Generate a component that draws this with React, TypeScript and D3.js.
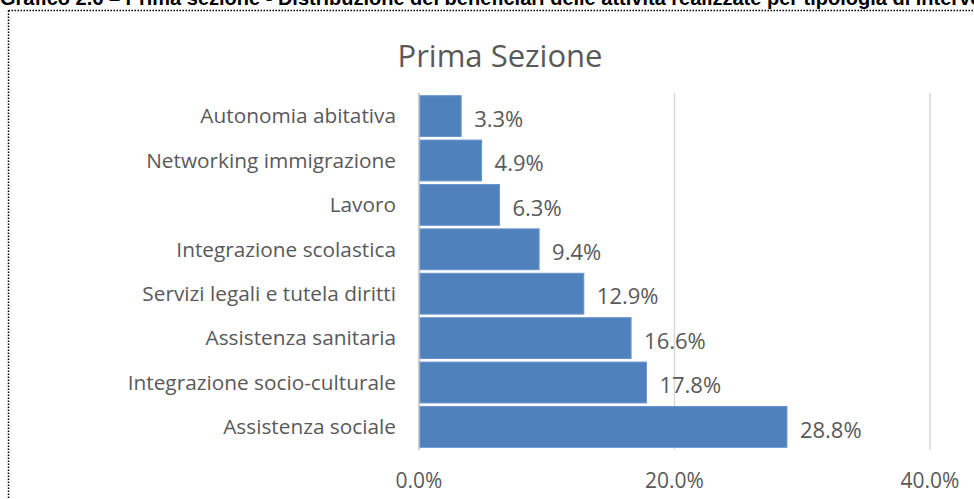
import React from "react";
import * as d3 from "d3";

const categories = [
  "Autonomia abitativa",
  "Networking immigrazione",
  "Lavoro",
  "Integrazione scolastica",
  "Servizi legali  e tutela diritti",
  "Assistenza sanitaria",
  "Integrazione socio-culturale",
  "Assistenza sociale",
];
const values = [3.3, 4.9, 6.3, 9.4, 12.9, 16.6, 17.8, 28.8];
const ticks = [0, 20, 40];
const chartTitle = "Prima Sezione";
const pageTitle =
  "Grafico 2.6 \u2013 Prima sezione - Distribuzione dei beneficiari delle attività realizzate per tipologia di intervento";

const W = 974;
const H = 499;
const font = "'Open Sans', 'Noto Sans', sans-serif";

export default function App() {
  const x = d3.scaleLinear().domain([0, 40]).range([419, 930]);
  const y = d3
    .scaleBand<string>()
    .domain(categories)
    .range([93, 450])
    .paddingInner(0.08)
    .paddingOuter(0.06);
  const fmt = (v: number) => d3.format(".1f")(v) + "%";

  return (
    <svg
      width={W}
      height={H}
      style={{ position: "absolute", left: 0, top: 0, background: "#fff" }}
    >
      <rect x={0} y={0} width={W} height={H} fill="#fff" />
      <text
        x={0}
        y={5}
        fontFamily="'Liberation Sans', Arial, sans-serif"
        fontWeight="bold"
        fontSize={20}
        fill="#000"
      >
        {pageTitle}
      </text>
      <line x1={8.5} x2={W} y1={10.5} y2={10.5} stroke="#000" strokeWidth={1.5} strokeDasharray="1.5,1.5" />
      <line x1={8.5} x2={8.5} y1={10.5} y2={H} stroke="#000" strokeWidth={1.5} strokeDasharray="1.5,1.5" />
      <text
        x={500}
        y={67}
        textAnchor="middle"
        fontFamily={font}
        fontSize={31}
        fill="#595959"
      >
        {chartTitle}
      </text>
      {ticks.map((t) => (
        <g key={t}>
          <line
            x1={x(t)}
            x2={x(t)}
            y1={93}
            y2={450}
            stroke={t === 0 ? "#bfbfbf" : "#d9d9d9"}
            strokeWidth={1.5}
          />
          <text
            x={x(t)}
            y={488}
            textAnchor="middle"
            fontFamily={font}
            fontSize={21}
            fill="#595959"
          >
            {fmt(t)}
          </text>
        </g>
      ))}
      {categories.map((c, i) => (
        <g key={c}>
          <rect
            x={x(0) + 1}
            y={y(c)}
            width={x(values[i]) - x(0) - 1}
            height={y.bandwidth()}
            fill="#4F81BD"
            stroke="#6a95cc"
            strokeWidth={1}
          />
          <text
            x={396}
            y={(y(c) as number) + y.bandwidth() / 2}
            dy="0.35em"
            textAnchor="end"
            fontFamily={font}
            fontSize={20.8}
            fill="#595959"
          >
            {c}
          </text>
          <text
            x={x(values[i]) + 13}
            y={(y(c) as number) + y.bandwidth() / 2 + 3}
            dy="0.35em"
            textAnchor="start"
            fontFamily={font}
            fontSize={22}
            fill="#595959"
          >
            {fmt(values[i])}
          </text>
        </g>
      ))}
    </svg>
  );
}
